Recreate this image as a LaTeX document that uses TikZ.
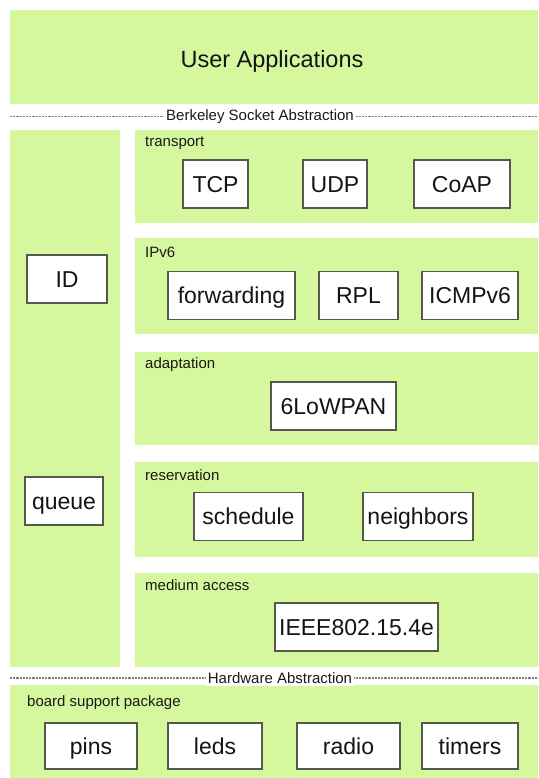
\documentclass[tikz,border=0pt]{standalone}
\usepackage{fontspec}
\setmainfont{Liberation Sans}
\begin{document}
\begin{tikzpicture}[x=1pt,y=-1pt,
  layer/.style={fill=layergreen,draw=none},
  modbox/.style={draw=boxedge,line width=1.3pt,fill=white,inner sep=0pt,
    minimum height=48pt,text height=20.5pt,text depth=4.5pt,
    text=black!92,font=\fontsize{23}{25}\selectfont},
  tag/.style={anchor=west,inner sep=0pt,text height=10.5pt,text depth=3pt,
    text=black!90,font=\fontsize{15}{16}\selectfont},
  divider/.style={draw=black!50,line width=1.2pt,dash pattern=on 2.2pt off 1pt},
  divlabel/.style={fill=white,inner sep=2pt,text=black!90,font=\fontsize{15}{16}\selectfont}]
\definecolor{layergreen}{HTML}{D5F89F}
\definecolor{boxedge}{HTML}{55584C}
\useasboundingbox (0,0) rectangle (538,778);
\fill[white] (0,0) rectangle (538,778);

% layer backgrounds
\path[layer] (10,10) rectangle (538,104);
\path[layer] (10,130) rectangle (120,667);
\path[layer] (135,130) rectangle (538,223);
\path[layer] (135,238) rectangle (538,334);
\path[layer] (135,352) rectangle (538,445);
\path[layer] (135,462) rectangle (538,557);
\path[layer] (135,573) rectangle (538,667);
\path[layer] (10,685) rectangle (538,778);

% application layer
\node[font=\fontsize{23.5}{26}\selectfont,text=black!92] (apps) at (272,61) {User Applications};

% abstraction boundaries
\coordinate (bsaL) at (10,116.5);
\coordinate (bsaR) at (538,116.5);
\draw[divider] (bsaL) -- (bsaR);
\node[divlabel] (bsa) at (260,116.5) {Berkeley Socket Abstraction};
\coordinate (hwaL) at (10,678);
\coordinate (hwaR) at (538,678);
\draw[divider] (hwaL) -- (hwaR);
\node[divlabel] (hwa) at (280,678) {Hardware Abstraction};

% layer names
\node[tag] (ltransport) at (145,143) {transport};
\node[tag] (lipv6) at (145,254) {IPv6};
\node[tag] (ladapt) at (145,365) {adaptation};
\node[tag] (lreserv) at (145,477) {reservation};
\node[tag] (lmac) at (145,587) {medium access};
\node[tag] (lbsp) at (27,703) {board support package};

% cross-layer modules
\node[modbox,minimum width=80pt] (id) at (67,279) {ID};
\node[modbox,minimum width=78pt] (queue) at (64,501) {queue};

% transport
\node[modbox,minimum width=65pt] (tcp) at (215.5,184) {TCP};
\node[modbox,minimum width=64pt] (udp) at (335,184) {UDP};
\node[modbox,minimum width=96pt] (coap) at (462,184) {CoAP};

% IPv6
\node[modbox,minimum width=127pt] (fwd) at (231.5,295.5) {forwarding};
\node[modbox,minimum width=79pt] (rpl) at (358.5,295.5) {RPL};
\node[modbox,minimum width=96pt] (icmp) at (470,295.5) {ICMPv6};

% adaptation
\node[modbox,minimum width=125pt] (lowpan) at (333.5,406) {6LoWPAN};

% reservation
\node[modbox,minimum width=109pt] (sched) at (248.5,516.5) {schedule};
\node[modbox,minimum width=110pt] (neigh) at (418,516.5) {neighbors};

% medium access
\node[modbox,minimum width=163pt] (mac) at (356.5,627) {IEEE802.15.4e};

% board support package
\node[modbox,minimum width=92pt,minimum height=46pt] (pins) at (91,746) {pins};
\node[modbox,minimum width=94pt,minimum height=46pt] (leds) at (215,746) {leds};
\node[modbox,minimum width=103pt,minimum height=46pt] (radio) at (348.5,746) {radio};
\node[modbox,minimum width=96pt,minimum height=46pt] (timers) at (470,746) {timers};
\end{tikzpicture}
\end{document}
